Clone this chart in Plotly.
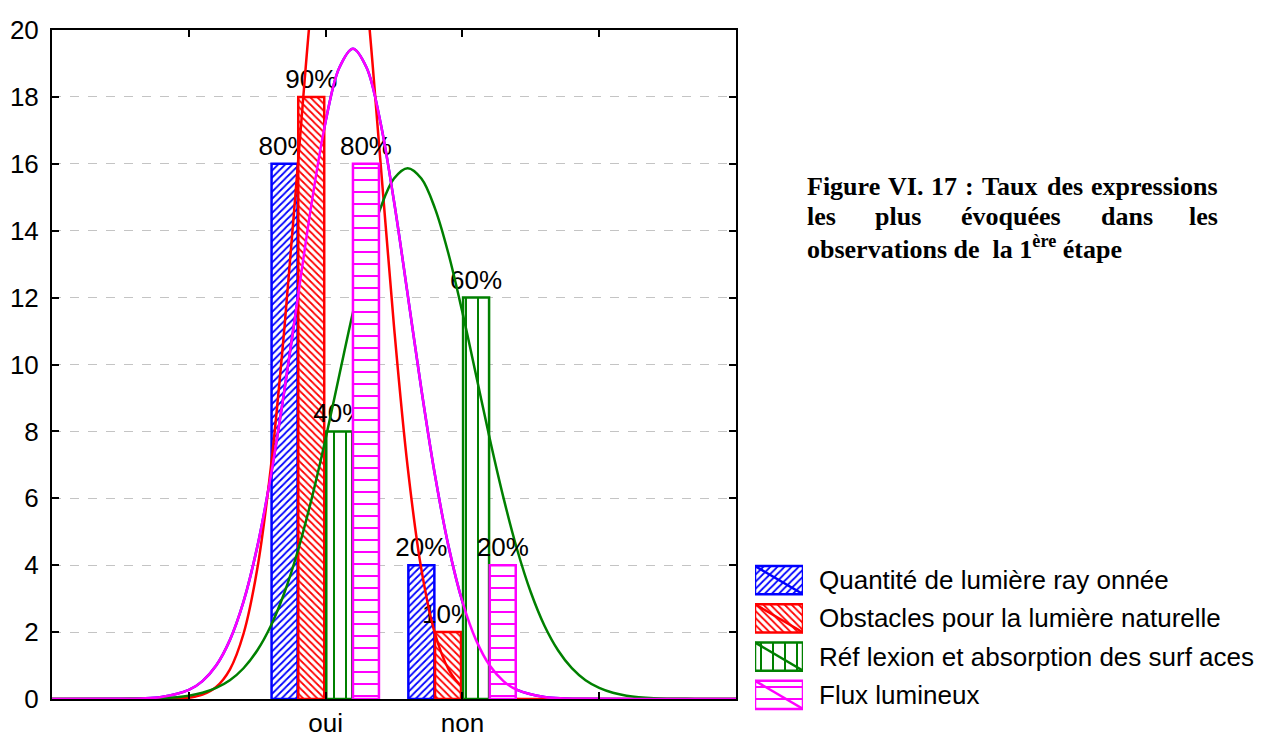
import plotly.graph_objects as go

# ---------------- data ----------------
categories = ["oui", "non"]
series_names = [
    "Quantité de lumière ray onnée",
    "Obstacles pour la lumière naturelle",
    "Réf lexion et absorption des surf aces",
    "Flux lumineux",
]
quantite = [16, 4]
obstacles = [18, 2]
reflexion = [8, 12]
flux = [16, 4]

quantite_pct = ["80%", "20%"]
obstacles_pct = ["90%", "10%"]
reflexion_pct = ["40%", "60%"]
flux_pct = ["80%", "20%"]

y_ticks = [0, 2, 4, 6, 8, 10, 12, 14, 16, 18, 20]

# fitted normal curves
curve_x_flux = [-1.0, -0.5, -0.35, -0.2, 0.0, 0.1, 0.2, 0.3, 0.4, 0.5, 0.6, 0.7, 0.8, 0.9, 1.0, 1.1, 1.2,
                1.3, 1.4, 1.5, 1.6, 1.7, 1.8, 1.9, 2.0, 2.1, 2.2, 2.3, 2.4, 2.6, 2.75, 2.9, 3.4, 4.0]
curve_y_flux = [0.0, 0.004, 0.016, 0.058, 0.27, 0.535, 1.00, 1.76, 2.91, 4.54, 6.68, 9.26, 12.09, 14.88, 17.26, 18.87, 19.44,
                18.87, 17.26, 14.88, 12.09, 9.26, 6.68, 4.54, 2.91, 1.76, 1.00, 0.535, 0.27, 0.058, 0.016, 0.004, 0.0, 0.0]
curve_x_quantite = curve_x_flux
curve_y_quantite = curve_y_flux

curve_x_obstacles = [-1.0, -0.5, -0.1, 0.0, 0.05, 0.1, 0.2, 0.3, 0.4, 0.5, 0.6, 0.7, 0.8, 0.9, 1.0, 1.1, 1.2,
                     1.3, 1.4, 1.5, 1.6, 1.7, 1.8, 1.9, 2.0, 2.1, 2.15, 2.2, 2.3, 2.7, 4.0]
curve_y_obstacles = [0.0, 0.0, 0.013, 0.04, 0.077, 0.13, 0.36, 0.88, 1.95, 3.88, 6.93, 11.14, 16.12, 20.99, 24.59, 25.92, 24.59,
                     20.99, 16.12, 11.14, 6.93, 3.88, 1.95, 0.88, 0.36, 0.13, 0.077, 0.04, 0.013, 0.0, 0.0]

curve_x_reflexion = [-1.0, -0.5, -0.2, 0.0, 0.1, 0.2, 0.3, 0.4, 0.5, 0.6, 0.7, 0.8, 0.9, 1.0, 1.1, 1.2, 1.3, 1.4, 1.5, 1.6,
                     1.7, 1.8, 1.9, 2.0, 2.1, 2.2, 2.3, 2.4, 2.5, 2.6, 2.7, 2.8, 2.9, 3.0, 3.1, 3.2, 3.4, 3.7, 4.0]
curve_y_reflexion = [0.0, 0.003, 0.026, 0.10, 0.185, 0.33, 0.56, 0.92, 1.45, 2.19, 3.19, 4.47, 6.02, 7.78, 9.68, 11.56, 13.28, 14.66, 15.56, 15.87,
                     15.56, 14.66, 13.28, 11.56, 9.68, 7.78, 6.02, 4.47, 3.19, 2.19, 1.45, 0.92, 0.56, 0.33, 0.185, 0.10, 0.026, 0.003, 0.0]

# ---------------- styling ----------------
W, H = 1281, 739
FONT = "Liberation Sans, Arial, sans-serif"
SERIF = "Liberation Serif, Times New Roman, serif"
colors = ["#0000FF", "#FF0000", "#008000", "#FF00FF"]
shapes_pat = ["/", "\\", "|", "-"]
pat_size = [5, 5, 12, 12]
pat_sol = [0.35, 0.35, 0.17, 0.17]
offsets = [-0.395, -0.2, 0.005, 0.2]
bar_w = 0.19

values = [quantite, obstacles, reflexion, flux]
pcts = [quantite_pct, obstacles_pct, reflexion_pct, flux_pct]
curves = [(curve_x_quantite, curve_y_quantite), (curve_x_obstacles, curve_y_obstacles),
          (curve_x_reflexion, curve_y_reflexion), (curve_x_flux, curve_y_flux)]

cat_pos = [i + 1 for i in range(len(categories))]

fig = go.Figure()
for i in range(4):
    xa = "x" if i == 0 else f"x{i+1}"
    ya = "y" if i == 0 else f"y{i+1}"
    fig.add_trace(go.Bar(
        x=cat_pos, y=values[i], width=bar_w, offset=offsets[i],
        marker=dict(color="white", line=dict(color=colors[i], width=2.5),
                    pattern=dict(shape=shapes_pat[i], fgcolor=colors[i], bgcolor="white", fgopacity=1,
                                 size=pat_size[i], solidity=pat_sol[i], fillmode="overlay")),
        text=pcts[i], textposition="outside", textangle=0, constraintext="none",
        textfont=dict(size=26, color="black", family=FONT), cliponaxis=False,
        xaxis=xa, yaxis=ya, name=series_names[i], hoverinfo="skip"))
    cx, cy = curves[i]
    fig.add_trace(go.Scatter(
        x=cx, y=cy, mode="lines", line=dict(color=colors[i], width=2.5, shape="spline", smoothing=1),
        xaxis=xa, yaxis=ya, hoverinfo="skip", showlegend=False))

# custom legend swatches
leg_idx = list(range(len(series_names)))
fig.add_trace(go.Bar(
    y=leg_idx, x=[1] * len(leg_idx), orientation="h", width=0.74, base=0,
    marker=dict(color="white", line=dict(color=colors, width=2.5),
                pattern=dict(shape=shapes_pat, fgcolor=colors, bgcolor="white", fgopacity=1,
                             size=pat_size, solidity=pat_sol, fillmode="overlay")),
    cliponaxis=False, xaxis="x5", yaxis="y5", hoverinfo="skip", showlegend=False))

xdom = [52 / W, 736 / W]
ydom = [1 - 699 / H, 1 - 30 / H]

axis_common = dict(showline=True, linecolor="black", linewidth=2, mirror="ticks",
                   ticks="inside", ticklen=7, tickwidth=2, tickcolor="black", zeroline=False,
                   automargin=False)

layout = dict(
    width=W, height=H, margin=dict(l=0, r=0, t=0, b=0, autoexpand=False),
    paper_bgcolor="white", plot_bgcolor="white", showlegend=False, barmode="overlay",
    font=dict(family=FONT, size=26, color="black"),
    xaxis=dict(domain=xdom, range=[-1, 4], tickvals=cat_pos, ticktext=categories, showgrid=False,
               minor=dict(tickvals=[0, len(categories) + 1], ticks="inside", ticklen=7, tickwidth=2,
                          tickcolor="black", showgrid=False),
               tickfont=dict(size=26, family=FONT), ticklabelstandoff=0, **axis_common),
    yaxis=dict(domain=ydom, range=[0, 20], tickvals=y_ticks, showgrid=True,
               gridcolor="#c4c4c4", griddash="dash", gridwidth=1,
               tickfont=dict(size=26, family=FONT), ticklabelstandoff=6, **axis_common),
    xaxis5=dict(domain=[755 / W, 803 / W], range=[0, 1], visible=False, anchor="y5", automargin=False),
    yaxis5=dict(domain=[1 - 714 / H, 1 - 561 / H], range=[3.5, -0.5], visible=False, anchor="x5",
                automargin=False),
)
for k in range(2, 5):
    layout[f"xaxis{k}"] = dict(overlaying="x", range=[-1, 4], visible=False, anchor=f"y{k}", automargin=False)
    layout[f"yaxis{k}"] = dict(overlaying="y", range=[0, 20], visible=False, anchor=f"x{k}", automargin=False)
fig.update_layout(**layout)

# legend diagonals and texts
for i, name in enumerate(series_names):
    fig.add_shape(type="line", xref="x5", yref="y5", x0=0, x1=1, y0=i - 0.37, y1=i + 0.37,
                  line=dict(color=colors[i], width=2.5))
    fig.add_annotation(xref="paper", yref="y5", x=817 / W, y=i, text=name, showarrow=False,
                       xanchor="left", yanchor="middle", font=dict(size=26, family=FONT, color="black"))

# caption (justified lines)
cap_font = dict(size=26, family=SERIF, color="black")
line1_words = ["Figure", "VI.", "17", ":", "Taux", "des", "expressions"]
line1_x = [805, 886, 929, 963, 980, 1045, 1220]
line2_words = ["les", "plus", "évoquées", "dans", "les"]
line2_x = [805, 873, 959, 1099, 1220]
for words, xs, yc in ((line1_words, line1_x, 186), (line2_words, line2_x, 217)):
    for j, (wd, xp) in enumerate(zip(words, xs)):
        fig.add_annotation(xref="paper", yref="paper", x=xp / W, y=1 - yc / H,
                           text=f"<b>{wd}</b>", showarrow=False,
                           xanchor="right" if j == len(words) - 1 else "left",
                           yanchor="middle", font=cap_font)
fig.add_annotation(xref="paper", yref="paper", x=805 / W, y=1 - 247 / H,
                   text="<b>observations de\u00a0 la 1<sup>ère</sup> étape</b>", showarrow=False,
                   xanchor="left", yanchor="middle", font=cap_font)

fig.write_html("out.html")
